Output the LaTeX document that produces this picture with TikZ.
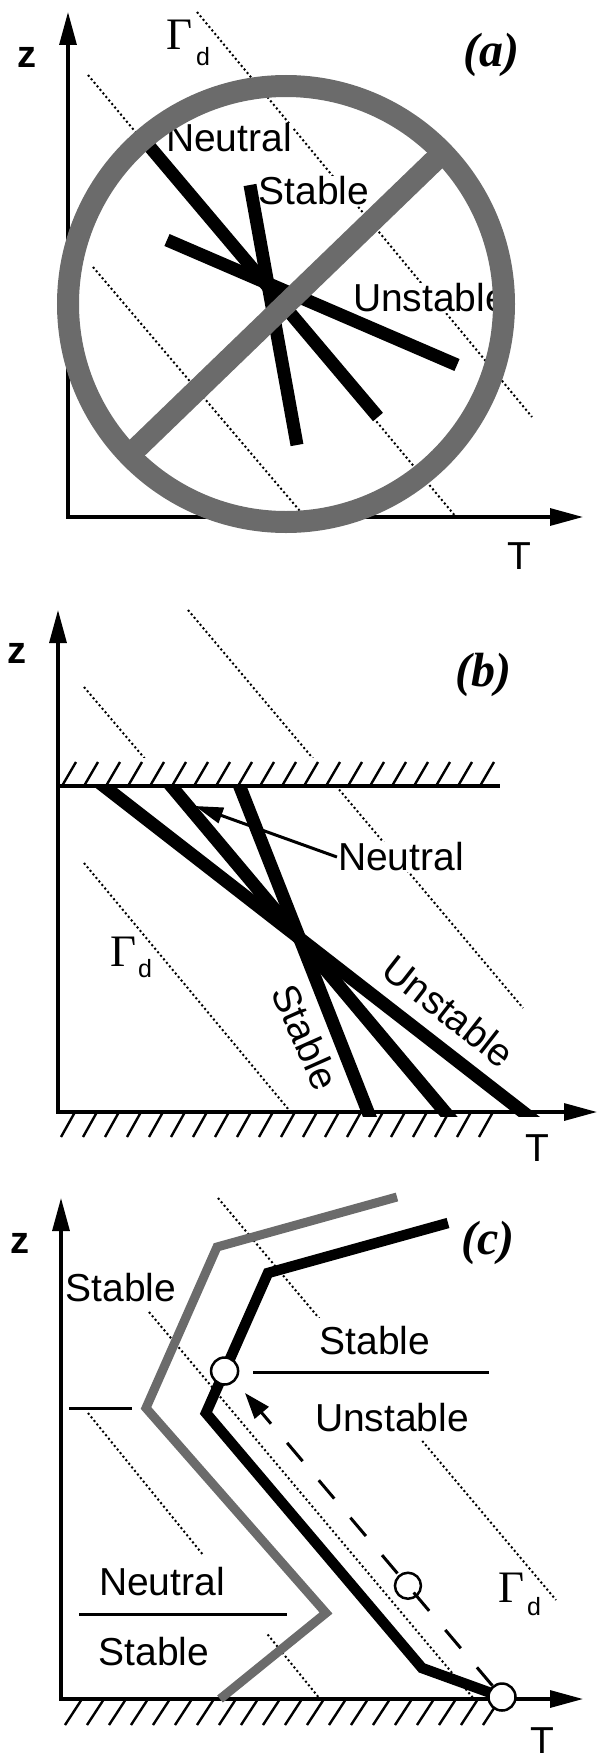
\documentclass[tikz,border=0pt]{standalone}
\usepackage{fontspec}
\setmainfont{Liberation Serif}
\setsansfont{Liberation Sans}
\usepackage{graphicx}
\usetikzlibrary{arrows.meta,calc}
\tikzset{
  axes/.style={line width=3.2pt, {Triangle[length=33pt,width=17pt]}-{Triangle[length=33pt,width=17pt]}},
  dots/.style={line width=2pt, dash pattern=on 2pt off 2.6pt},
  prof/.style={line width=13pt},
  bprof/.style={line width=10.5pt},
  gprof/.style={draw=black!58, line width=9pt},
  ring/.style={draw=black!58, line width=22pt},
  lab/.style={font=\sffamily\fontsize{39}{46}\selectfont, inner sep=1pt},
  labw/.style={lab, fill=white},
  zlab/.style={font=\sffamily\bfseries\fontsize{38}{44}\selectfont, inner sep=0pt},
  tlab/.style={font=\sffamily\fontsize{39}{46}\selectfont, inner sep=0pt},
  gam/.style={font=\fontsize{45}{52}\selectfont, inner sep=0pt},
  sub/.style={font=\sffamily\fontsize{25}{30}\selectfont, inner sep=0pt},
  plab/.style={font=\bfseries\itshape\fontsize{48}{56}\selectfont, inner sep=0pt},
  hatch/.style={line width=2.4pt},
  sep/.style={line width=3pt},
  dsh/.style={line width=3pt, dash pattern=on 24pt off 25pt, dash phase=9pt},
  pt/.style={circle, draw, fill=white, line width=2.5pt, minimum size=27pt, inner sep=0pt},
  ptopen/.style={circle, draw, line width=2.5pt, minimum size=26pt, inner sep=0pt},
}
\begin{document}
\begin{tikzpicture}[x=1pt,y=-1pt]
\useasboundingbox (0,0) rectangle (601,1753);

%%%%%%%%%%%%%%%% (a)
\draw[dots] (88,75) -- (456,517);
\draw[dots] (197,12) -- (532,417);
\draw[dots] (93,267) -- (305,517);
\coordinate (Oa) at (68,517);
\coordinate (Za) at (68,12);
\coordinate (Ta) at (583,517);
\draw[axes] (Za) -- (Oa) -- (Ta);
\node[zlab] (za) at (27,57) {z};
\node[tlab] (ta) at (519,556) {T};
\node[gam] (ga) at (180,35) {Γ};
\node[sub] (da) at (203,57) {d};
\node[plab] (pa) at (491,55) {(a)};
\node[labw] (nA) at (229,138) {Neutral};
\node[labw] (sA) at (314,191) {Stable};
\node[labw] (uA) at (430,298) {Unstable};
\draw[prof] (150,147) -- (378,417);
\draw[prof] (250,185) -- (297,445);
\draw[prof] (167,240) -- (457,365);
\coordinate (Ca) at (286,304);
\draw[ring] (Ca) circle[radius=218];
\draw[ring] ($(Ca)+(136:218)$) -- ($(Ca)+(-44:218)$);

%%%%%%%%%%%%%%%% (b)
\draw[dots] (188,610) -- (523,1008);
\draw[dots] (84,687) -- (445,1112);
\draw[dots] (84,863) -- (289,1110);
\fill[white] (58,758) rectangle (500,786);
\foreach \k in {0,...,19} \draw[hatch] ({62+22*\k},786) -- ({76+22*\k},762);
\draw[sep, line width=3.2pt] (58,786) -- (500,786);
\coordinate (Ob) at (58,1112);
\coordinate (Zb) at (58,610);
\coordinate (Tb) at (597,1112);
\draw[axes] (Zb) -- (Ob) -- (Tb);
\foreach \k in {0,...,19} \draw[hatch] ({61+22*\k},1137) -- ({75+22*\k},1112);
\begin{scope}
\clip (58,786) rectangle (600,1116);
\draw[prof] ($(105,787)!-0.05!(523,1112)$) -- ($(105,787)!1.05!(523,1112)$);
\draw[prof] ($(172,787)!-0.05!(445,1112)$) -- ($(172,787)!1.05!(445,1112)$);
\draw[prof] ($(240,787)!-0.05!(368,1112)$) -- ($(240,787)!1.05!(368,1112)$);
\end{scope}
\node[labw] (nB) at (401,857) {Neutral};
\coordinate (nBt) at (195,806);
\draw[line width=3pt, -{Triangle[length=28pt,width=16pt]}] (nB.west) -- (nBt);
\node[lab, rotate=-66] (sB) at (306,1037) {Stable};
\node[lab, rotate=-38] (uB) at (449,1011) {Unstable};
\node[zlab] (zb) at (17,653) {z};
\node[tlab] (tb) at (537,1148) {T};
\node[gam] (gb) at (124,952) {Γ};
\node[sub] (db) at (145,969) {d};
\node[plab] (pb) at (483,675) {(b)};

%%%%%%%%%%%%%%%% (c)
\draw[dots] (218,1198) -- (556,1600);
\draw[dots] (149,1312) -- (474,1699);
\draw[dots] (88,1413) -- (320,1699);
\fill[white] (300,1318) rectangle (492,1440);
\fill[white] (75,1555) rectangle (292,1633);
\coordinate (Oc) at (61,1699);
\coordinate (Zc) at (61,1198);
\coordinate (Tc) at (583,1699);
\draw[axes] (Zc) -- (Oc) -- (Tc);
\foreach \k in {0,...,19} \draw[hatch] ({65+22*\k},1725) -- ({82+22*\k},1699);
\node[lab] (s1) at (121,1288) {Stable};
\node[lab] (s2) at (375,1341) {Stable};
\draw[sep] (253,1372) -- (489,1372);
\node[lab] (u2) at (392,1418) {Unstable};
\node[lab] (n3) at (162,1582) {Neutral};
\draw[sep] (79,1614) -- (287,1614);
\node[lab] (s3) at (154,1652) {Stable};
\draw[sep] (69,1408) -- (132,1408);
\draw[gprof] (220,1699) -- (326,1613) -- (146,1408) -- (217,1247) -- (397,1197);
\coordinate (P1) at (448,1223);
\coordinate (P2) at (268,1273);
\coordinate (P3) at (206,1413);
\coordinate (P4) at (422,1668);
\coordinate (C0) at (502,1697);
\draw[bprof] (P1) -- (P2) -- (P3) -- (P4) -- (C0);
\coordinate (tipc) at (245,1393);
\draw[dsh, {Triangle[length=26pt,width=18pt]}-] (tipc) -- (C0);
\node[pt] (c1) at ($(P2)!0.7!(P3)$) {};
\node[pt] (c0) at (C0) {};
\node[ptopen] (cm) at ($(C0)!0.366!(tipc)$) {};
\node[zlab] (zc) at (20,1243) {z};
\node[tlab] (tc) at (542,1741) {T};
\node[gam] (gc) at (512,1588) {Γ};
\node[sub] (dc) at (534,1607) {d};
\node[plab] (pc) at (488,1243) {(c)};
\end{tikzpicture}
\end{document}
